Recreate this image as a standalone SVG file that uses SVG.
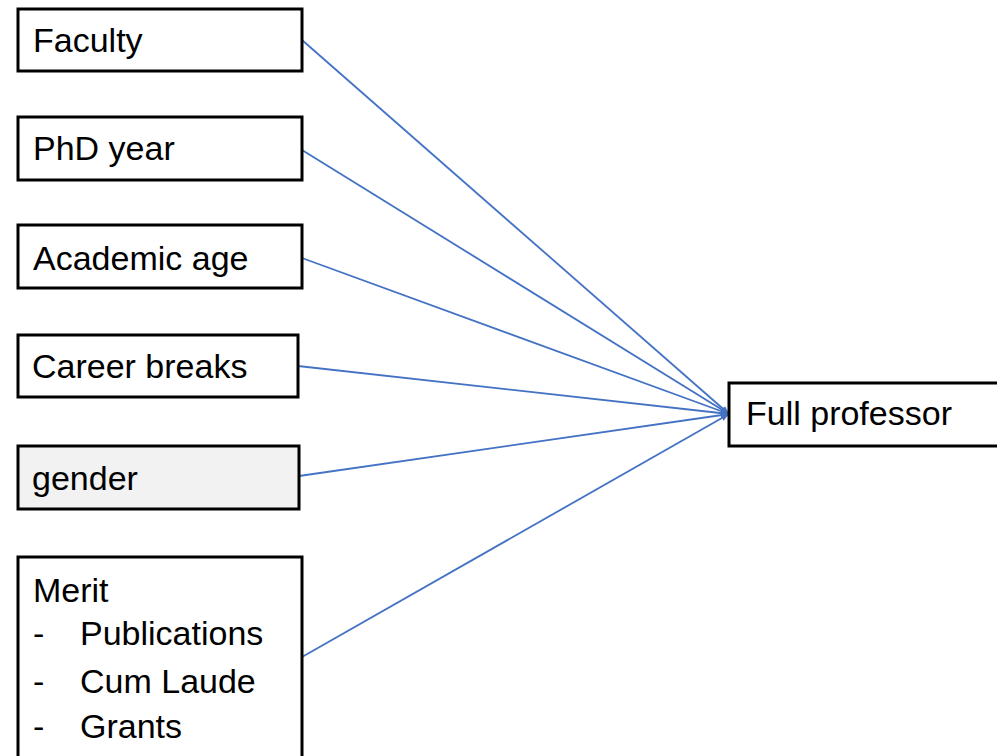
<svg xmlns="http://www.w3.org/2000/svg" width="997" height="756" viewBox="0 0 997 756">
<style>
.box{fill:#ffffff;stroke:#000000;stroke-width:3}
.t{font-family:"Liberation Sans",Arial,sans-serif;font-size:34px;fill:#000000}
.c{stroke:#4472c4;stroke-width:1.8;fill:none;marker-end:url(#ah)}
</style>
<defs>
<marker id="ah" viewBox="0 0 10 10" refX="10" refY="5" markerWidth="9" markerHeight="8" markerUnits="userSpaceOnUse" orient="auto">
<path d="M0,1 L10,5 L0,9 z" fill="#4472c4"/>
</marker>
</defs>
<rect width="997" height="756" fill="#ffffff"/>
<g id="connectors">
<line class="c" x1="302" y1="40" x2="729" y2="414"/>
<line class="c" x1="302" y1="150" x2="729" y2="414"/>
<line class="c" x1="302" y1="258" x2="729" y2="414"/>
<line class="c" x1="298" y1="366" x2="729" y2="414"/>
<line class="c" x1="299" y1="476" x2="729" y2="414"/>
<line class="c" x1="302" y1="657" x2="729" y2="414"/>
</g>
<g id="faculty"><rect class="box" x="18" y="9" width="284" height="62"/><text class="t" x="33" y="52">Faculty</text></g>
<g id="phd"><rect class="box" x="18" y="117" width="284" height="63"/><text class="t" x="33" y="160">PhD year</text></g>
<g id="academic"><rect class="box" x="18" y="225" width="284" height="63"/><text class="t" x="33" y="270">Academic age</text></g>
<g id="career"><rect class="box" x="18" y="335" width="280" height="62"/><text class="t" x="32" y="378">Career breaks</text></g>
<g id="gender"><rect class="box" x="18" y="446" width="281" height="63" style="fill:#f2f2f2"/><text class="t" x="32" y="490">gender</text></g>
<g id="merit"><rect class="box" x="18" y="557" width="284" height="210"/>
<text class="t" x="33" y="602">Merit</text>
<text class="t" x="33" y="645">-</text><text class="t" x="80" y="645">Publications</text>
<text class="t" x="33" y="693">-</text><text class="t" x="80" y="693">Cum Laude</text>
<text class="t" x="33" y="738">-</text><text class="t" x="80" y="738">Grants</text>
</g>
<g id="fullprof"><rect class="box" x="729" y="383" width="280" height="63"/><text class="t" x="746" y="425">Full professor</text></g>
</svg>
